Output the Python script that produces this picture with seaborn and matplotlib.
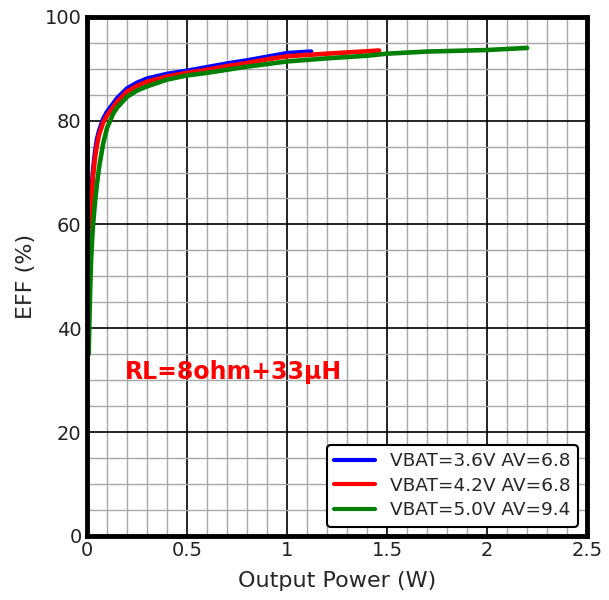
import numpy as np
import pandas as pd
import matplotlib
matplotlib.use("Agg")
import matplotlib.pyplot as plt
from matplotlib.ticker import MultipleLocator, FuncFormatter
import seaborn as sns

series_names = ["VBAT=3.6V AV=6.8", "VBAT=4.2V AV=6.8", "VBAT=5.0V AV=9.4"]
series_colors = ["#0000ff", "#ff0000", "#008000"]

p_36 = [0.004, 0.007, 0.01, 0.02, 0.03, 0.04, 0.05, 0.06, 0.08, 0.1, 0.15, 0.2, 0.25, 0.3,
        0.4, 0.5, 0.6, 0.7, 0.8, 0.9, 1.0, 1.12]
e_36 = [50, 54, 57, 65, 70.5, 74, 76.5, 78, 80.3, 81.7, 84.3, 86.2, 87.3, 88.1,
        89, 89.6, 90.3, 91.0, 91.6, 92.3, 93.0, 93.3]

p_42 = [0.004, 0.007, 0.01, 0.02, 0.03, 0.04, 0.05, 0.06, 0.08, 0.1, 0.15, 0.2, 0.25, 0.3,
        0.4, 0.5, 0.6, 0.7, 0.8, 0.9, 1.0, 1.2, 1.46]
e_42 = [48, 52, 55, 63.5, 69.5, 73, 75.5, 77.3, 79.6, 81, 83.6, 85.6, 86.7, 87.5,
        88.5, 89.2, 89.8, 90.5, 91.1, 91.8, 92.4, 92.9, 93.5]

p_50 = [0.008, 0.012, 0.016, 0.02, 0.025, 0.03, 0.04, 0.05, 0.06, 0.08, 0.1, 0.13, 0.15, 0.2,
        0.25, 0.3, 0.4, 0.5, 0.6, 0.7, 0.8, 1.0, 1.2, 1.4, 1.5, 1.7, 2.0, 2.2]
e_50 = [35, 42, 48, 53, 57, 60, 64.5, 68, 71, 75.5, 78.6, 81.3, 82.5, 84.6,
        85.8, 86.6, 87.9, 88.7, 89.2, 89.8, 90.4, 91.4, 92.0, 92.5, 92.9, 93.3, 93.6, 94.0]

x_ticks = [0, 0.5, 1, 1.5, 2, 2.5]
y_ticks = [0, 20, 40, 60, 80, 100]
annotation = "RL=8ohm+33μH"

frames = []
for name, p, e in zip(series_names, [p_36, p_42, p_50], [e_36, e_42, e_50]):
    frames.append(pd.DataFrame({"Output Power (W)": p, "EFF (%)": e, "series": name}))
df = pd.concat(frames, ignore_index=True)

sns.set_style("white")
plt.rcParams['font.family'] = ['DejaVu Sans']

fig = plt.figure(figsize=(6.09, 6.0), dpi=100)
ax = fig.add_axes([0.143, 0.107, 0.821, 0.865])

ax.xaxis.set_minor_locator(MultipleLocator(0.1))
ax.yaxis.set_minor_locator(MultipleLocator(5))
ax.grid(which="minor", color="#a8a8a8", linewidth=1.0, zorder=0)
ax.grid(which="major", color="black", linewidth=1.2, zorder=0)
ax.set_axisbelow(True)

sns.lineplot(data=df, x="Output Power (W)", y="EFF (%)", hue="series", hue_order=series_names,
             palette=series_colors, linewidth=3.3, sort=False, estimator=None,
             ax=ax, legend=False)

handles = [plt.Line2D([], [], color=c, linewidth=3) for c in series_colors]
leg = ax.legend(handles, series_names, loc="lower right", fontsize=13.3, frameon=True,
                edgecolor="black", framealpha=1, fancybox=True, handlelength=2.2,
                borderaxespad=0.5, labelspacing=0.35)
leg.get_frame().set_linewidth(1.5)

ax.set_xlim(0, 2.5)
ax.set_ylim(0, 100)
ax.set_xticks(x_ticks)
ax.set_yticks(y_ticks)
ax.xaxis.set_major_formatter(FuncFormatter(lambda v, _: f"{v:g}"))
ax.tick_params(axis="both", which="both", length=0, labelsize=14, pad=4, labelcolor="#222222")
ax.set_xlabel("Output Power (W)", fontsize=16, labelpad=8)
ax.set_ylabel("EFF (%)", fontsize=16, labelpad=6)

for s in ax.spines.values():
    s.set_visible(True)
    s.set_color("black")
    s.set_linewidth(3.5)

ax.text(0.19, 31.5, annotation, color="#ff0000", fontsize=17, fontweight="bold",
        va="center", ha="left")

fig.savefig("out.png", dpi=100)
